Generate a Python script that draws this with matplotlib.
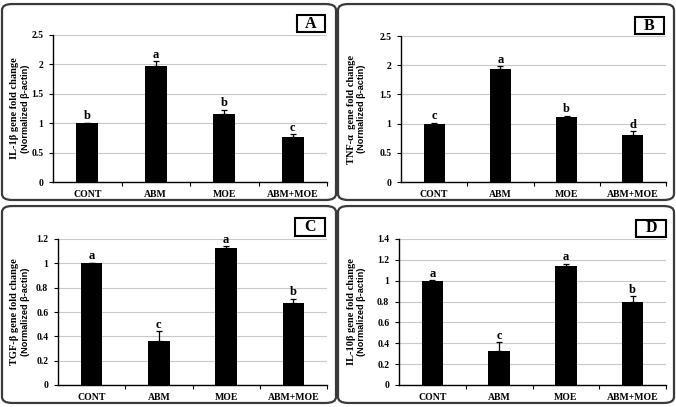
import numpy as np
import matplotlib.pyplot as plt
from matplotlib.patches import FancyBboxPatch, Rectangle

groups = ["CONT", "ABM", "MOE", "ABM+MOE"]

il1b = [1.00, 1.98, 1.16, 0.77]
il1b_err = [0.01, 0.07, 0.07, 0.04]
il1b_sig = ["b", "a", "b", "c"]

tnfa = [1.00, 1.94, 1.12, 0.81]
tnfa_err = [0.01, 0.04, 0.01, 0.06]
tnfa_sig = ["c", "a", "b", "d"]

tgfb = [1.00, 0.36, 1.13, 0.67]
tgfb_err = [0.005, 0.08, 0.01, 0.04]
tgfb_sig = ["a", "c", "a", "b"]

il10 = [1.00, 0.33, 1.14, 0.80]
il10_err = [0.005, 0.08, 0.02, 0.05]
il10_sig = ["a", "c", "a", "b"]

W, H = 676, 407
fig = plt.figure(figsize=(W / 100, H / 100), dpi=100)

SERIF = "Liberation Serif"
SANS = "Liberation Sans"


def px(l, t, r, b):
    return [l / W, (H - b) / H, (r - l) / W, (b - t) / H]


panels = [
    # axes box, frame box, label box, letter, data, ylabel, ymax, step
    ((53, 35, 327, 182), (2, 2, 336, 202), (297, 15, 325, 32), "A",
     il1b, il1b_err, il1b_sig, "IL-1\u03b2 gene fold change", 2.5, 0.5),
    ((401, 36, 666, 182), (338, 2, 674, 202), (635, 17, 664, 34), "B",
     tnfa, tnfa_err, tnfa_sig, "TNF-\u03b1  gene fold change", 2.5, 0.5),
    ((58, 239, 327, 385), (2, 204, 336, 405), (295, 218, 325, 236), "C",
     tgfb, tgfb_err, tgfb_sig, "TGF-\u03b2 gene fold change", 1.2, 0.2),
    ((399, 239, 666, 385), (338, 204, 674, 405), (636, 220, 666, 237), "D",
     il10, il10_err, il10_sig, "IL-10\u03b2 gene fold change", 1.4, 0.2),
]

for box, frame, lab, letter, vals, errs, sig, ylab, ymax, step in panels:
    # rounded panel frame
    fl, ft, fr, fb = frame
    fig.patches.append(FancyBboxPatch(
        (fl / W + 0.008, (H - fb) / H + 0.013), (fr - fl) / W - 0.016, (fb - ft) / H - 0.026,
        boxstyle="round,pad=0.008,rounding_size=0.015", transform=fig.transFigure,
        fill=False, edgecolor="#3a3a3a", linewidth=1.6))

    ax = fig.add_axes(px(*box))
    x = np.arange(len(groups))
    ax.bar(x, vals, width=0.32, color="black", zorder=3)
    ax.errorbar(x, vals, yerr=[np.zeros(len(errs)), errs], fmt="none",
                ecolor="black", elinewidth=0.9, capsize=2, capthick=0.9, zorder=4)
    for xi, v, e, s in zip(x, vals, errs, sig):
        ax.text(xi, v + e + ymax * 0.004, s, ha="center", va="bottom",
                fontsize=9, fontweight="bold", family=SERIF)

    ax.set_xlim(-0.5, 3.5)
    ax.set_ylim(0, ymax)
    ticks = np.arange(0, ymax + step / 2, step)
    ax.set_yticks(ticks)
    ax.set_yticklabels([f"{t:g}" for t in ticks],
                       fontsize=7, fontweight="bold", family=SERIF)
    ax.set_xticks(x)
    ax.set_xticklabels(groups, fontsize=7, fontweight="bold", family=SERIF)
    ax.set_xticks(np.arange(0.5, 3.6, 1), minor=True)
    ax.tick_params(axis="x", which="major", length=0, pad=6)
    ax.tick_params(axis="x", which="minor", length=3, direction="out", width=0.8)
    ax.tick_params(axis="y", length=3, width=0.8, pad=4)
    ax.grid(axis="y", color="#c8c8c8", linewidth=0.8, zorder=0)
    for side in ["top", "right"]:
        ax.spines[side].set_visible(False)
    for side in ["left", "bottom"]:
        ax.spines[side].set_linewidth(1.0)

    # y label: two lines in different fonts
    l, t, r, b = box
    lx = 15 if l < 300 else 351
    cy = (H - (t + b) / 2) / H
    fig.text(lx / W, cy, ylab, rotation=90, ha="center", va="center",
             fontsize=7.5, fontweight="bold", family=SERIF)
    fig.text((lx + 11) / W, cy, "(Normalized \u03b2-actin)", rotation=90,
             ha="center", va="center", fontsize=6.6, fontweight="bold", family=SANS)

    # panel letter box
    ll, lt, lr, lb = lab
    fig.patches.append(Rectangle((ll / W, (H - lb) / H), (lr - ll) / W, (lb - lt) / H,
                                 transform=fig.transFigure, fill=True, facecolor="white",
                                 edgecolor="black", linewidth=1.5))
    fig.text((ll + lr) / 2 / W, (H - (lt + lb) / 2) / H, letter, ha="center",
             va="center", fontsize=11.5, fontweight="bold", family=SERIF)

fig.savefig("out.png", dpi=100)
